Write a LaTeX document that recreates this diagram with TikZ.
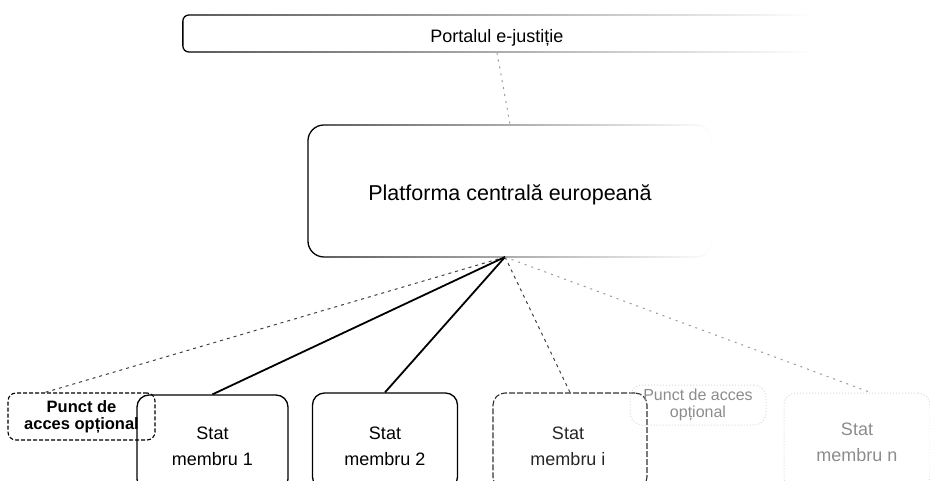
\documentclass[tikz,border=0pt]{standalone}
\usepackage{fontspec}
\setmainfont{Liberation Sans}
\usetikzlibrary{fadings}
\tikzfading[name=fadeR, left color=transparent!0, right color=transparent!100]
\begin{document}
\begin{tikzpicture}[x=1pt,y=-1pt,
  box/.style={draw=black, line width=1.3pt, rectangle, rounded corners=12pt, align=center, inner sep=0pt},
  faintbox/.style={draw=black!15, line width=1pt, dotted, rectangle, rounded corners=12pt, align=center, inner sep=0pt, text=black!45},
  solidlink/.style={draw=black, line width=1.8pt},
  dashlink/.style={draw=black!75, line width=1pt, dash pattern=on 3pt off 4pt},
  faintlink/.style={draw=black!40, line width=1pt, dash pattern=on 2pt off 5pt},
  lbl/.style={font=\fontsize{18}{26}\selectfont}
]
\useasboundingbox (0,0) rectangle (930,481);
\clip (0,0) rectangle (930,481);

% portal
\node[box, rounded corners=6pt, minimum width=628, minimum height=37, path fading=fadeR, fit fading=true] (portal) at (497,33.5) {};
\node[lbl] (portaltext) at (497,38) {Portalul e-justiție};

% platform
\node[box, rounded corners=16pt, minimum width=404, minimum height=132, path fading=fadeR, fit fading=true] (platform) at (510,191) {};
\node[font=\fontsize{21.5}{24}\selectfont] (platformtext) at (510,195) {Platforma centrală europeană};
\coordinate (hub) at (505,257);

% link portal-platform
\draw[faintlink] (portal.south) -- (platform.north);

% bottom boxes
\node[box, dashed, dash pattern=on 4pt off 2pt, line width=1.1pt, rounded corners=8pt, minimum width=147, minimum height=47, font=\bfseries\fontsize{16.5}{17}\selectfont] (punctL) at (81.5,416.5) {Punct de\\acces opțional};
\node[box, minimum width=151, minimum height=96, lbl] (stat1) at (212.5,443) {};
\node[lbl, align=center] (stat1text) at (212.5,446) {Stat\\membru 1};
\node[box, minimum width=145, minimum height=96, lbl] (stat2) at (385,441) {};
\node[lbl, align=center] (stat2text) at (385,446) {Stat\\membru 2};
\node[box, draw=black!80, dash pattern=on 6pt off 2pt, line width=1.1pt, minimum width=154, minimum height=96] (stati) at (570,441) {};
\node[lbl, align=center, text=black!85] (statitext) at (568,446) {Stat\\membru i};
\node[faintbox, minimum width=136, minimum height=40, font=\fontsize{16}{17}\selectfont] (punctR) at (698,405) {Punct de acces\\opțional};
\node[faintbox, minimum width=146, minimum height=96] (statn) at (857,441) {};
\node[lbl, align=center, text=black!45] (statntext) at (857,442) {Stat\\membru n};

% connectors
\coordinate (pLend) at (43,393);
\draw[dashlink] (hub) -- (pLend);
\draw[solidlink] (hub) -- (stat1.north);
\draw[solidlink] (hub) -- (stat2.north);
\draw[dashlink] (hub) -- (stati.north);
\coordinate (nEnd) at (872,393);
\draw[faintlink] (hub) -- (nEnd);
\end{tikzpicture}
\end{document}
